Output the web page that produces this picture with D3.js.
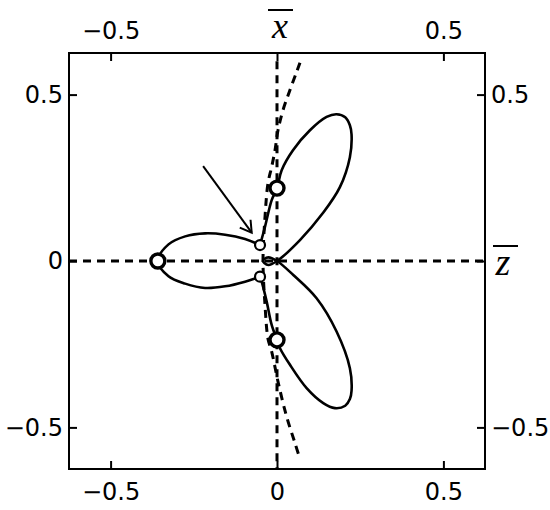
<!DOCTYPE html>
<html>
<head>
<meta charset="utf-8">
<script src="https://cdn.jsdelivr.net/npm/d3@7"></script>
<style>
  html, body { margin: 0; padding: 0; background: #fff; }
  svg { display: block; }
</style>
</head>
<body>
<svg id="chart" width="550" height="510"></svg>
<script>
// ---------- data ----------
const xTicks = [-0.5, 0, 0.5];
const yTicks = [-0.5, 0, 0.5];
const xTitle = "x";
const zTitle = "z";

// upper lobe: from upper small circle, up through big circle, around, down to origin
const upperLobe = [
  [-0.051, 0.048], [-0.036, 0.103], [-0.016, 0.183], [0.0, 0.219], [0.014, 0.273],
  [0.048, 0.333], [0.099, 0.393], [0.149, 0.433], [0.179, 0.441], [0.205, 0.432],
  [0.219, 0.408], [0.224, 0.380], [0.219, 0.312], [0.189, 0.222], [0.138, 0.144],
  [0.069, 0.063], [0.0, 0.0]
];
// tiny loop at the origin
const tinyLoop = [
  [-0.026, -0.012], [-0.038, -0.006], [-0.042, 0.0], [-0.038, 0.006], [-0.026, 0.011], [0.0, 0.0]
];
// lower lobe: from origin down the right edge, around, up through big circle to lower small circle
const lowerLobe = [
  [0.049, -0.042], [0.119, -0.112], [0.179, -0.212], [0.219, -0.322], [0.224, -0.390],
  [0.219, -0.415], [0.205, -0.435], [0.174, -0.442], [0.139, -0.427], [0.089, -0.382],
  [0.039, -0.312], [0.009, -0.262], [0.0, -0.237], [-0.016, -0.192], [-0.031, -0.122],
  [-0.046, -0.062], [-0.051, -0.047]
];
// left lobe: lower small circle -> left big circle -> upper small circle
const leftLobe = [
  [-0.051, -0.047], [-0.096, -0.062], [-0.156, -0.076], [-0.216, -0.081], [-0.276, -0.068],
  [-0.326, -0.046], [-0.358, 0.0], [-0.326, 0.050], [-0.276, 0.074], [-0.216, 0.083],
  [-0.156, 0.079], [-0.096, 0.066], [-0.051, 0.048]
];
// dashed parabola-like curve
const dashedCurve = [
  [0.069, 0.596], [0.059, 0.568], [0.039, 0.514], [0.018, 0.453], [0.003, 0.393],
  [-0.006, 0.333], [-0.016, 0.283], [-0.027, 0.234], [-0.036, 0.133], [-0.042, 0.0],
  [-0.036, -0.133], [-0.027, -0.234], [-0.016, -0.272], [0.004, -0.367], [0.029, -0.468],
  [0.054, -0.547], [0.069, -0.595]
];
// straight dashed reference lines
const hLine = [[-0.625, 0], [0.625, 0]];
const vLine = [[0, 0.6], [0, -0.625]];

const bigCircles = [[0.0, 0.219], [0.0, -0.237], [-0.358, 0.0]];
const smallCircles = [[-0.051, 0.048], [-0.051, -0.047]];
const arrowPts = [[-0.222, 0.285], [-0.076, 0.085]];

// ---------- drawing ----------
const svg = d3.select("#chart");
const x = d3.scaleLinear().domain([-0.625, 0.625]).range([69, 485]);
const y = d3.scaleLinear().domain([-0.625, 0.625]).range([469, 53]);

const fmt = d => (d < 0 ? "\u2212" : "") + Math.abs(d);
const fmtNoZero = d => d === 0 ? "" : fmt(d);
const tickFont = "DejaVu Sans, sans-serif";

function styleAxis(g) {
  g.select(".domain").remove();
  g.selectAll(".tick line").attr("stroke", "#000").attr("stroke-width", 2);
  g.selectAll(".tick text").attr("font-family", tickFont).attr("font-size", 24).attr("fill", "#000");
}

svg.append("g").attr("transform", `translate(0,${y(-0.625)})`)
  .call(d3.axisBottom(x).tickValues(xTicks).tickFormat(fmt).tickSizeInner(-8).tickSizeOuter(0).tickPadding(14))
  .call(styleAxis);
svg.append("g").attr("transform", `translate(0,${y(0.625)})`)
  .call(d3.axisTop(x).tickValues(xTicks).tickFormat(fmtNoZero).tickSizeInner(-8).tickSizeOuter(0).tickPadding(14))
  .call(styleAxis);
svg.append("g").attr("transform", `translate(${x(-0.625)},0)`)
  .call(d3.axisLeft(y).tickValues(yTicks).tickFormat(fmt).tickSizeInner(-8).tickSizeOuter(0).tickPadding(6))
  .call(styleAxis);
svg.append("g").attr("transform", `translate(${x(0.625)},0)`)
  .call(d3.axisRight(y).tickValues(yTicks).tickFormat(fmtNoZero).tickSizeInner(-8).tickSizeOuter(0).tickPadding(6))
  .call(styleAxis);

// frame
svg.append("rect")
  .attr("x", x(-0.625)).attr("y", y(0.625))
  .attr("width", x(0.625) - x(-0.625)).attr("height", y(-0.625) - y(0.625))
  .attr("fill", "none").attr("stroke", "#000").attr("stroke-width", 2);

const lineStraight = d3.line().x(d => x(d[0])).y(d => y(d[1]));
const lineSmooth = d3.line().x(d => x(d[0])).y(d => y(d[1])).curve(d3.curveCatmullRom.alpha(0.5));

// dashed lines
[hLine, vLine].forEach(pts => {
  svg.append("path").attr("d", lineStraight(pts))
    .attr("fill", "none").attr("stroke", "#000").attr("stroke-width", 3)
    .attr("stroke-dasharray", "8,6");
});
svg.append("path").attr("d", lineSmooth(dashedCurve))
  .attr("fill", "none").attr("stroke", "#000").attr("stroke-width", 3)
  .attr("stroke-dasharray", "8,6");

// solid trajectory
const mainPath = upperLobe.concat(tinyLoop, lowerLobe);
svg.append("path").attr("d", lineSmooth(mainPath))
  .attr("fill", "none").attr("stroke", "#000").attr("stroke-width", 2.6).attr("stroke-linejoin", "round");
svg.append("path").attr("d", lineSmooth(leftLobe))
  .attr("fill", "none").attr("stroke", "#000").attr("stroke-width", 2.6).attr("stroke-linejoin", "round");

// arrow
const a0 = [x(arrowPts[0][0]), y(arrowPts[0][1])];
const a1 = [x(arrowPts[1][0]), y(arrowPts[1][1])];
svg.append("line").attr("x1", a0[0]).attr("y1", a0[1]).attr("x2", a1[0]).attr("y2", a1[1])
  .attr("stroke", "#000").attr("stroke-width", 2);
const ang = Math.atan2(a1[1] - a0[1], a1[0] - a0[0]);
const hl = 13, ha = 0.54;
const head = [
  [a1[0] - hl * Math.cos(ang - ha), a1[1] - hl * Math.sin(ang - ha)],
  a1,
  [a1[0] - hl * Math.cos(ang + ha), a1[1] - hl * Math.sin(ang + ha)]
];
svg.append("path").attr("d", d3.line()(head))
  .attr("fill", "none").attr("stroke", "#000").attr("stroke-width", 2).attr("stroke-linejoin", "miter");

// circles
svg.selectAll("circle.big").data(bigCircles).join("circle").attr("class", "big")
  .attr("cx", d => x(d[0])).attr("cy", d => y(d[1])).attr("r", 7)
  .attr("fill", "#fff").attr("stroke", "#000").attr("stroke-width", 3.4);
svg.selectAll("circle.small").data(smallCircles).join("circle").attr("class", "small")
  .attr("cx", d => x(d[0])).attr("cy", d => y(d[1])).attr("r", 5)
  .attr("fill", "#fff").attr("stroke", "#000").attr("stroke-width", 2.2);

// axis titles with overbars
const serif = "Liberation Serif, Times New Roman, serif";
svg.append("text").attr("x", 280).attr("y", 38).attr("text-anchor", "middle")
  .attr("font-family", serif).attr("font-style", "italic").attr("font-size", 36).text(xTitle);
svg.append("line").attr("x1", 268).attr("x2", 293).attr("y1", 10).attr("y2", 10)
  .attr("stroke", "#000").attr("stroke-width", 2);
svg.append("text").attr("x", 503).attr("y", 275).attr("text-anchor", "middle")
  .attr("font-family", serif).attr("font-style", "italic").attr("font-size", 38).text(zTitle);
svg.append("line").attr("x1", 493).attr("x2", 518).attr("y1", 246).attr("y2", 246)
  .attr("stroke", "#000").attr("stroke-width", 2);
</script>
</body>
</html>
